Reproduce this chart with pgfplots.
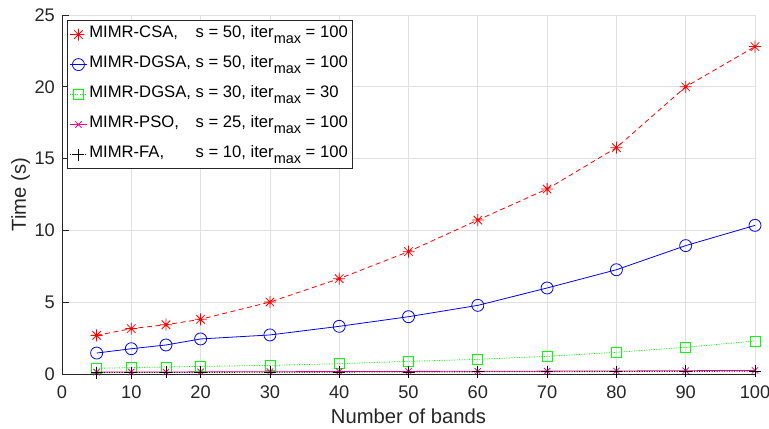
\documentclass[border=0pt]{standalone}
\usepackage{pgfplots}
\pgfplotsset{compat=1.18}
\usepackage{fontspec}
\setmainfont{Liberation Sans}
\usepackage{calc}

\definecolor{axgray}{gray}{0.15}
\definecolor{gridgray}{gray}{0.88}
\definecolor{mgreen}{rgb}{0,1,0}

\pgfdeclareplotmark{mstar}{%
 \pgfpathmoveto{\pgfqpoint{-\pgfplotmarksize}{0pt}}\pgfpathlineto{\pgfqpoint{\pgfplotmarksize}{0pt}}%
 \pgfpathmoveto{\pgfqpoint{0pt}{-\pgfplotmarksize}}\pgfpathlineto{\pgfqpoint{0pt}{\pgfplotmarksize}}%
 \pgfpathmoveto{\pgfqpoint{-0.707\pgfplotmarksize}{-0.707\pgfplotmarksize}}\pgfpathlineto{\pgfqpoint{0.707\pgfplotmarksize}{0.707\pgfplotmarksize}}%
 \pgfpathmoveto{\pgfqpoint{-0.707\pgfplotmarksize}{0.707\pgfplotmarksize}}\pgfpathlineto{\pgfqpoint{0.707\pgfplotmarksize}{-0.707\pgfplotmarksize}}%
 \pgfusepathqstroke}

\newcommand{\lab}[1]{\makebox[\widthof{MIMR-DGSA,\ }][l]{#1}}
\newcommand{\itmax}{iter\raisebox{-6.5bp}{\fontsize{14.5}{14.5}\selectfont max}}

\pgfplotstableread{
x    csa    dg50   dg30   pso    fa
5    2.69   1.46   0.40   0.13   0.10
10   3.16   1.76   0.44   0.14   0.10
15   3.43   2.02   0.49   0.14   0.11
20   3.81   2.44   0.53   0.15   0.11
30   5.01   2.72   0.60   0.16   0.12
40   6.64   3.32   0.72   0.17   0.13
50   8.52   3.99   0.88   0.18   0.14
60   10.72  4.78   1.02   0.19   0.15
70   12.88  5.99   1.23   0.20   0.16
80   15.76  7.26   1.51   0.21   0.17
90   20.00  8.94   1.86   0.23   0.18
100  22.80  10.35  2.30   0.25   0.19
}\datatable

\begin{document}
\begin{tikzpicture}
\begin{axis}[
  scale only axis,
  width=693bp, height=359bp,
  xmin=0, xmax=100, ymin=0, ymax=25,
  xtick={0,10,...,100}, ytick={0,5,...,25},
  axis x line*=bottom, axis y line*=left,
  axis line style={axgray, line width=0.7bp},
  tick align=inside, major tick length=7bp,
  tick style={axgray, line width=0.7bp},
  grid=major, major grid style={gridgray, line width=0.7bp},
  clip=false,
  ticklabel style={font=\fontsize{18.3}{21}\selectfont, text=axgray},
  xticklabel style={anchor=base, inner sep=0pt, yshift=-24bp},
  yticklabel style={anchor=east, inner sep=0pt, xshift=-7bp},
  /pgf/number format/assume math mode=true,
  xlabel={Number of bands}, ylabel={Time (s)},
  label style={font=\fontsize{20.3}{23}\selectfont, text=axgray},
  xlabel style={at={(axis description cs:0.5,-0.1365)}, anchor=base},
  ylabel style={at={(axis description cs:-0.052,0.5)}, anchor=base},
  legend style={at={(axis description cs:0,1)}, anchor=north west,
    xshift=4.7bp, yshift=-5bp, draw=axgray, line width=0.7bp,
    font=\fontsize{16.7}{19}\selectfont, text=black,
    inner sep=2.5bp, row sep=6.5bp,
    nodes={text height=12.5bp, text depth=7bp, inner xsep=2bp}},
  legend cell align=left,
  legend image code/.code={\draw[mark repeat=2,mark phase=2] plot coordinates {(0bp,0bp) (8.5bp,0bp) (17bp,0bp)};},
  every axis plot/.append style={line width=0.8bp},
]
\addplot[red, dash pattern=on 5bp off 3.5bp, mark=mstar, mark size=6bp, mark options={solid}] table[x=x,y=csa] {\datatable};
\addlegendentry{\lab{MIMR-CSA,}s = 50, \itmax{} = 100}
\addplot[blue, mark=o, mark size=6bp] table[x=x,y=dg50] {\datatable};
\addlegendentry{\lab{MIMR-DGSA,}s = 50, \itmax{} = 100}
\addplot[mgreen, dash pattern=on 1bp off 1.5bp, mark=square, mark size=5bp, mark options={solid}] table[x=x,y=dg30] {\datatable};
\addlegendentry{\lab{MIMR-DGSA,}s = 30, \itmax{} = 30}
\addplot[magenta, mark=x, mark size=4.5bp] table[x=x,y=pso] {\datatable};
\addlegendentry{\lab{MIMR-PSO,}s = 25, \itmax{} = 100}
\addplot[black, dash pattern=on 1bp off 1.5bp, mark=+, mark size=6bp, mark options={solid}] table[x=x,y=fa] {\datatable};
\addlegendentry{\lab{MIMR-FA,}s = 10, \itmax{} = 100}
\end{axis}
\pgfresetboundingbox
\path[use as bounding box] (-62bp,-55bp) rectangle (707bp,374bp);
\end{tikzpicture}
\end{document}
